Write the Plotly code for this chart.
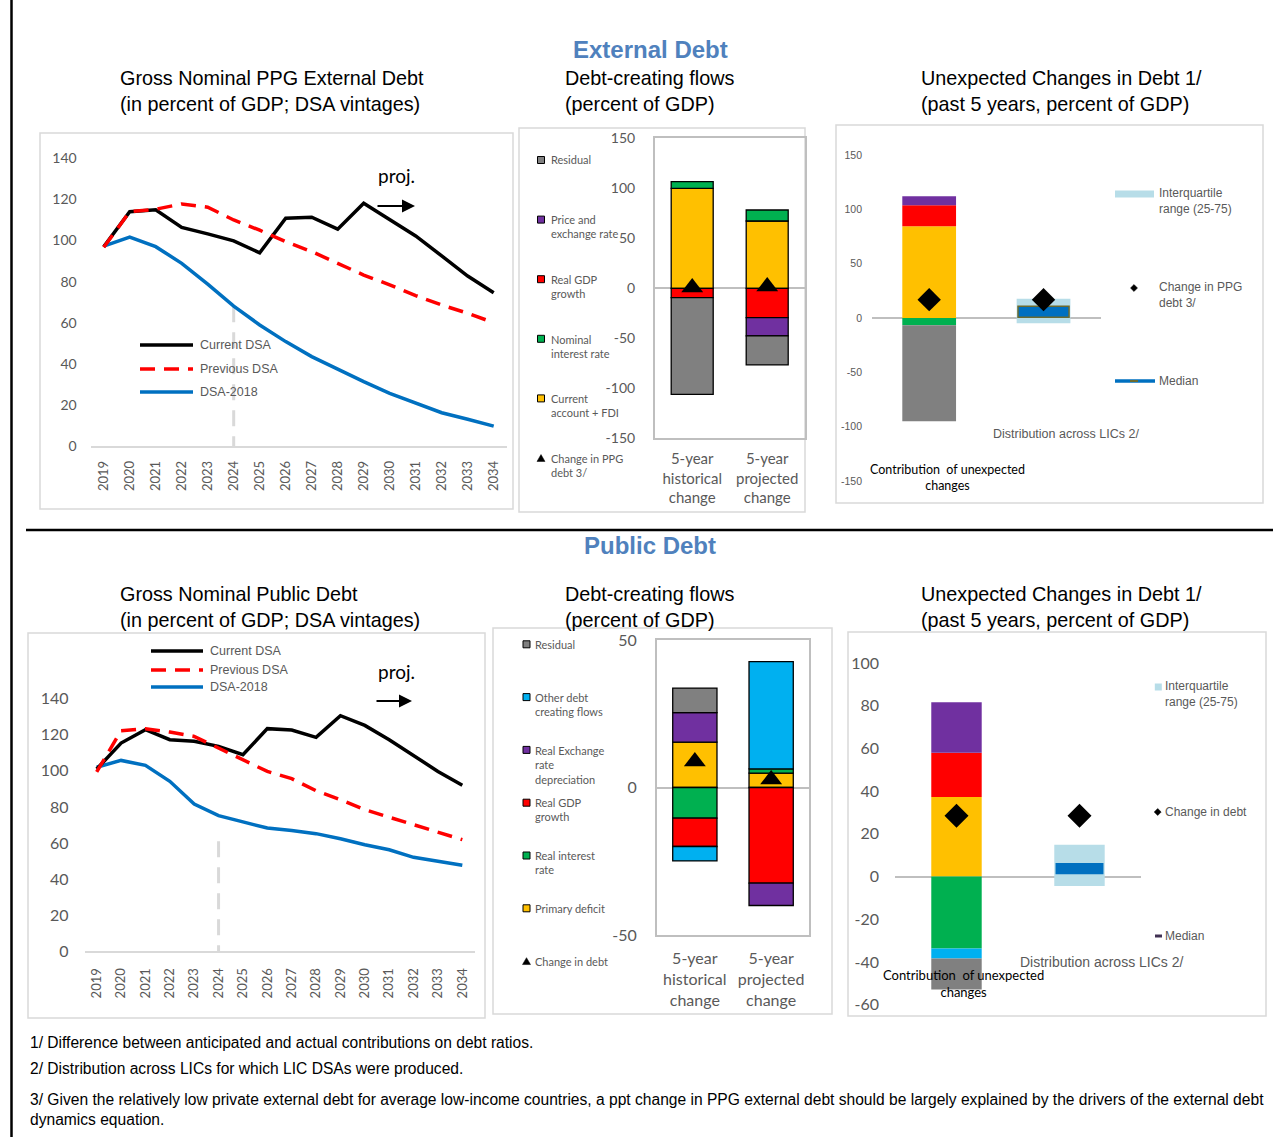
import plotly.graph_objects as go

W, H = 1280, 1137

# ---------------- data ----------------
years = list(range(2019, 2035))
year_labels = [str(y) for y in years]
proj_start = 2024

vintage_names = ["Current DSA", "Previous DSA", "DSA-2018"]
vintage_ticks = [0, 20, 40, 60, 80, 100, 120, 140]

ext_current = [97, 114, 115, 106.4, 103.2, 99.8, 94, 110.8, 111.3, 105.5, 118.1, 110.3, 102.2, 92.5, 82.7, 74.6]
ext_previous = [96.7, 114, 115.2, 117.8, 116.2, 110, 105, 99.4, 94.6, 88.9, 83.2, 78.4, 73.2, 68.6, 64.6, 60]
ext_dsa2018 = [97.3, 101.6, 97, 88.9, 78.8, 68.1, 58.9, 50.8, 43.5, 37.3, 31.3, 25.6, 20.8, 16.2, 13, 9.7]
ext_proj_line_top = 68

pub_current = [101, 115.4, 122.8, 117.3, 116.4, 113.6, 109, 123.4, 122.6, 118.6, 130.6, 125.2, 117.3, 108.4, 99.7, 92]
pub_previous = [99.4, 122.3, 123.4, 121.5, 119.1, 112.7, 106.2, 99.7, 95.7, 89, 84, 78.5, 74.3, 70.2, 66.1, 61.9]
pub_dsa2018 = [102, 105.8, 103.1, 94.2, 81.6, 75.2, 71.7, 68.3, 66.9, 65.2, 62.4, 59.1, 56.3, 52.1, 49.9, 47.7]
pub_proj_line_top = 61

flow_periods = ["5-year<br>historical<br>change", "5-year<br>projected<br>change"]

# external debt-creating flows (stack order: CA+FDI, nominal interest, real GDP, price/FX, residual)
ext_flow_names = ["Current<br>account + FDI", "Nominal<br>interest rate", "Real GDP<br>growth",
                  "Price and<br>exchange rate", "Residual"]
ext_ca_fdi = [100.0, 67.3]
ext_nominal_interest = [6.7, 11.0]
ext_real_gdp = [-9.3, -29.3]
ext_price_fx = [0.0, -18.3]
ext_residual = [-96.7, -29.0]
ext_change = [0.7, 1.7]
ext_change_name = "Change in PPG<br>debt 3/"
ext_flow_ticks = [-150, -100, -50, 0, 50, 100, 150]

# public debt-creating flows (stack order: primary deficit, real interest, real GDP, real FX, other, residual)
pub_flow_names = ["Primary deficit", "Real interest<br>rate", "Real GDP<br>growth",
                  "Real Exchange<br>rate<br>depreciation", "Other debt<br>creating flows", "Residual"]
pub_primary_deficit = [15.4, 4.9]
pub_real_interest = [-10.4, 1.4]
pub_real_gdp = [-9.6, -32.4]
pub_real_fx = [10.0, -7.6]
pub_other_flows = [-4.9, 36.4]
pub_residual = [8.3, 0.0]
pub_change = [8.8, 2.7]
pub_change_name = "Change in debt"
pub_flow_ticks = [-50, 0, 50]

# unexpected changes in debt over the past 5 years
unexp_groups = ["Contribution  of unexpected<br>changes", "Distribution across LICs 2/"]
ext_unexp = [84.4, -6.7, 19.3, 8.3, -88.4]
ext_unexp_change = 16.9
ext_lic_iqr = [-4.9, 17.8]
ext_lic_median = [0.6, 10.7]
ext_unexp_ticks = [-150, -100, -50, 0, 50, 100, 150]

pub_unexp = [37.3, -33.7, 20.7, 23.6, -4.7, -14.5]
pub_unexp_change = 28.5
pub_lic_iqr = [-4.4, 14.9]
pub_lic_median = [1.1, 6.3]
pub_unexp_ticks = [-60, -40, -20, 0, 20, 40, 60, 80, 100]

iqr_name = "Interquartile<br>range (25-75)"
median_name = "Median"

footnotes = [
    "1/ Difference between anticipated and actual contributions on debt ratios.",
    "2/ Distribution across LICs for which LIC DSAs were produced.",
    "3/ Given the relatively low private external debt for average low-income countries, a ppt change in PPG external debt should be largely explained by the drivers of the external debt",
    "dynamics equation.",
]

# ---------------- style ----------------
ARIAL = "Liberation Sans"
SANS = "Lato"
TXT = "#595959"
YELLOW, GREEN, RED, PURPLE, SKY, GREY = "#FFC000", "#00B050", "#FF0000", "#7030A0", "#00B0F0", "#808080"
ext_flow_colors = [YELLOW, GREEN, RED, PURPLE, GREY]
pub_flow_colors = [YELLOW, GREEN, RED, PURPLE, SKY, GREY]
IQR_COLOR = "#B7DDE8"
MEDIAN_COLOR = "#0070C0"
FRAME = "#D9D9D9"
AXIS_GREY = "#BFBFBF"


def X(x):
    return x / W


def Y(y):
    return 1 - y / H


def axref(n):
    return ("x" if n == 1 else f"x{n}", "y" if n == 1 else f"y{n}")


def axkey(n):
    return ("xaxis" if n == 1 else f"xaxis{n}", "yaxis" if n == 1 else f"yaxis{n}")


fig = go.Figure()
shapes = []
annotations = []
axes = {}


def text(x, y, s, size, color=TXT, family=ARIAL, xanchor="left", align="left", bold=False):
    annotations.append(dict(
        x=X(x), y=Y(y), xref="paper", yref="paper", showarrow=False,
        text=f"<b>{s}</b>" if bold else s, xanchor=xanchor, yanchor="middle", align=align,
        font=dict(size=size, color=color, family=family)))


def line_key(x0, x1, y, color, width, dash=None):
    shapes.append(dict(type="line", xref="paper", yref="paper", x0=X(x0), x1=X(x1), y0=Y(y), y1=Y(y),
                       line=dict(color=color, width=width, dash=dash)))


def rect(x0, y0, x1, y1, fill="rgba(0,0,0,0)", outline=FRAME, width=1.5):
    shapes.append(dict(type="rect", xref="paper", yref="paper", x0=X(x0), x1=X(x1), y0=Y(y1), y1=Y(y0),
                       fillcolor=fill, line=dict(color=outline, width=width), layer="below"))


def square_key(cx, cy, s, fill, outline="black"):
    shapes.append(dict(type="rect", xref="paper", yref="paper", x0=X(cx - s / 2), x1=X(cx + s / 2),
                       y0=Y(cy + s / 2), y1=Y(cy - s / 2), fillcolor=fill,
                       line=dict(color=outline, width=1 if outline else 0)))


def poly_key(points):
    d = "M " + " L ".join(f"{X(a):.5f},{Y(b):.5f}" for a, b in points) + " Z"
    shapes.append(dict(type="path", xref="paper", yref="paper", path=d, fillcolor="black",
                       line=dict(color="black", width=0.5)))


def triangle_key(cx, cy, s):
    poly_key([(cx - s / 2, cy + s * 0.43), (cx + s / 2, cy + s * 0.43), (cx, cy - s * 0.43)])


def diamond_key(cx, cy, s):
    poly_key([(cx, cy - s / 2), (cx + s / 2, cy), (cx, cy + s / 2), (cx - s / 2, cy)])


def tick_font(size, family=SANS):
    return dict(family=family, size=size, color=TXT)


# ---------------- DSA vintages line charts ----------------
def vintage_chart(n, cur, prev, old, proj_top, xdom, ydom, ytick_size, xtick_size, ystand, xstand):
    xa, ya = axref(n)
    kx, ky = axkey(n)
    fig.add_trace(go.Scatter(x=[proj_start, proj_start], y=[proj_top, 0], mode="lines",
                             line=dict(color="#D9D9D9", width=3, dash="16px,10px"),
                             xaxis=xa, yaxis=ya, hoverinfo="skip"))
    fig.add_trace(go.Scatter(x=years, y=old, mode="lines", name=vintage_names[2],
                             line=dict(color="#0070C0", width=3.5), xaxis=xa, yaxis=ya))
    fig.add_trace(go.Scatter(x=years, y=cur, mode="lines", name=vintage_names[0],
                             line=dict(color="black", width=3.5), xaxis=xa, yaxis=ya))
    fig.add_trace(go.Scatter(x=years, y=prev, mode="lines", name=vintage_names[1],
                             line=dict(color="#FF0000", width=3.5, dash="15px,9px"), xaxis=xa, yaxis=ya))
    axes[kx] = dict(domain=[X(xdom[0]), X(xdom[1])], range=[years[0] - 0.5, years[-1] + 0.5],
                    tickvals=years, ticktext=year_labels, tickangle=-90, showline=True,
                    linecolor=FRAME, linewidth=1.5, showgrid=False, zeroline=False, ticks="",
                    tickfont=tick_font(xtick_size), ticklabelstandoff=xstand, anchor=ya,
                    automargin=False)
    axes[ky] = dict(domain=[Y(ydom[1]), Y(ydom[0])], range=[0, 140], tickvals=vintage_ticks,
                    ticktext=[str(v) for v in vintage_ticks], showline=False, showgrid=False,
                    zeroline=False, ticks="", tickfont=tick_font(ytick_size),
                    ticklabelstandoff=ystand, anchor=xa, automargin=False)


# ---------------- debt-creating flows ----------------
def flows_chart(n, series, colors, change, ticks, yrange, xdom, ydom, width, ytick_size, xtick_size,
                ystand, xstand, tri_size):
    xa, ya = axref(n)
    kx, ky = axkey(n)
    for vals, col in zip(series, colors):
        fig.add_trace(go.Bar(x=flow_periods, y=[v if v != 0 else None for v in vals], width=width,
                             marker=dict(color=col, line=dict(color="black", width=1.3)),
                             xaxis=xa, yaxis=ya))
    fig.add_trace(go.Scatter(x=flow_periods, y=change, mode="markers",
                             marker=dict(symbol="triangle-up", size=tri_size, color="black"),
                             xaxis=xa, yaxis=ya))
    axes[kx] = dict(domain=[X(xdom[0]), X(xdom[1])], type="category", categoryorder="array",
                    categoryarray=flow_periods, showline=True, mirror=True, linecolor=AXIS_GREY,
                    linewidth=1.5, showgrid=False, zeroline=False, ticks="",
                    tickfont=tick_font(xtick_size), ticklabelstandoff=xstand, anchor=ya,
                    automargin=False)
    axes[ky] = dict(domain=[Y(ydom[1]), Y(ydom[0])], range=yrange, tickvals=ticks,
                    ticktext=[str(v) for v in ticks], showline=True, mirror=True, linecolor=AXIS_GREY,
                    linewidth=1.5, showgrid=False, zeroline=True, zerolinecolor=AXIS_GREY,
                    zerolinewidth=1.5, ticks="", tickfont=tick_font(ytick_size),
                    ticklabelstandoff=ystand, anchor=xa, automargin=False)


# ---------------- unexpected changes ----------------
def unexpected_chart(n, comps, colors, change, iqr, med, ticks, yrange, xdom, ydom, width,
                     ytick_font, ystand, med_outline, dia_size):
    xa, ya = axref(n)
    kx, ky = axkey(n)
    for v, col in zip(comps, colors):
        fig.add_trace(go.Bar(x=[unexp_groups[0]], y=[v], width=width,
                             marker=dict(color=col, line=dict(width=0)), xaxis=xa, yaxis=ya))
    fig.add_trace(go.Bar(x=[unexp_groups[1]], y=[iqr[1] - iqr[0]], base=[iqr[0]], width=width,
                         name=iqr_name, marker=dict(color=IQR_COLOR, line=dict(width=0)),
                         xaxis=xa, yaxis=ya))
    fig.add_trace(go.Bar(x=[unexp_groups[1]], y=[med[1] - med[0]], base=[med[0]], width=width * 0.95,
                         name=median_name, marker=dict(color=MEDIAN_COLOR, line=med_outline),
                         xaxis=xa, yaxis=ya))
    fig.add_trace(go.Scatter(x=unexp_groups, y=[change, change], mode="markers",
                             marker=dict(symbol="diamond", size=dia_size, color="black"),
                             xaxis=xa, yaxis=ya))
    axes[kx] = dict(domain=[X(xdom[0]), X(xdom[1])], type="category", categoryorder="array",
                    categoryarray=unexp_groups, showticklabels=False, showline=False, showgrid=False,
                    zeroline=False, ticks="", anchor=ya, automargin=False)
    axes[ky] = dict(domain=[Y(ydom[1]), Y(ydom[0])], range=yrange, tickvals=ticks,
                    ticktext=[str(v) for v in ticks], showline=False, showgrid=False, zeroline=True,
                    zerolinecolor=AXIS_GREY, zerolinewidth=1.5, ticks="", tickfont=ytick_font,
                    ticklabelstandoff=ystand, anchor=xa, automargin=False)


# ---- External debt row ----
vintage_chart(1, ext_current, ext_previous, ext_dsa2018, ext_proj_line_top,
              (90.7, 506.7), (158.3, 446), 14, 13, 13, 8)
flows_chart(2, [ext_ca_fdi, ext_nominal_interest, ext_real_gdp, ext_price_fx, ext_residual],
            ext_flow_colors, ext_change, ext_flow_ticks, [-150, 150], (654.7, 804.7), (138.3, 438.3),
            0.56, 14, 15, 15, 6, 19)
unexpected_chart(3, ext_unexp, ext_flow_colors, ext_unexp_change, ext_lic_iqr, ext_lic_median,
                 ext_unexp_ticks, [-150, 150], (872, 1100.7), (155, 481), 0.47,
                 tick_font(10.5, ARIAL), 9, dict(color="#6B6B2F", width=1.5), 18)

# ---- Public debt row ----
vintage_chart(4, pub_current, pub_previous, pub_dsa2018, pub_proj_line_top,
              (84.5, 474.5), (698.7, 951.3), 16, 13, 15, 10)
flows_chart(5, [pub_primary_deficit, pub_real_interest, pub_real_gdp, pub_real_fx, pub_other_flows,
                pub_residual],
            pub_flow_colors, pub_change, pub_flow_ticks, [-50, 50], (656.7, 809.3), (640, 935),
            0.58, 16, 16, 15, 8, 19)
unexpected_chart(6, pub_unexp, pub_flow_colors, pub_unexp_change, pub_lic_iqr, pub_lic_median,
                 pub_unexp_ticks, [-60, 100], (895, 1141), (663, 1004.7), 0.41,
                 tick_font(16), 15, dict(width=0), 18.5)

# ---------------- frames, dividers ----------------
rect(40, 133, 513, 509)
rect(519, 128, 805, 512)
rect(836, 125, 1263, 503)
rect(28, 633, 485, 1018)
rect(493, 628, 832, 1014)
rect(848, 632, 1266, 1016)
shapes.append(dict(type="line", xref="paper", yref="paper", x0=X(26), x1=X(1273), y0=Y(530), y1=Y(530),
                   line=dict(color="black", width=2.5)))
shapes.append(dict(type="line", xref="paper", yref="paper", x0=X(11.5), x1=X(11.5), y0=Y(0), y1=Y(H),
                   line=dict(color="black", width=2.5)))

# ---------------- titles ----------------
BLUE_TITLE = "#4F81BD"
text(650, 49, "External Debt", 24, BLUE_TITLE, ARIAL, "center", bold=True)
text(650, 545, "Public Debt", 24, BLUE_TITLE, ARIAL, "center", bold=True)
for top, t1, t2, t3 in [(78, "Gross Nominal PPG External Debt", "Debt-creating flows", "Unexpected Changes in Debt 1/"),
                        (594, "Gross Nominal Public Debt", "Debt-creating flows", "Unexpected Changes in Debt 1/")]:
    text(118, top, t1, 19.8, "black")
    text(563, top, t2, 19.8, "black")
    text(919, top, t3, 19.8, "black")
    text(118, top + 26, "(in percent of GDP; DSA vintages)", 19.8, "black")
    text(563, top + 26, "(percent of GDP)", 19.8, "black")
    text(919, top + 26, "(past 5 years, percent of GDP)", 19.8, "black")

# ---------------- vintage legends + projection arrows ----------------
for (lx0, lx1, tx, ys) in [(140, 193, 198, (345, 369, 392)), (151, 203, 208, (651, 670, 687))]:
    line_key(lx0, lx1, ys[0], "black", 3.5)
    line_key(lx0, lx1, ys[1], "#FF0000", 3.5, "15px,9px")
    line_key(lx0, lx1, ys[2], "#0070C0", 3.5)
    for name, yy in zip(vintage_names, ys):
        text(tx, yy, name, 12.5)

for (tx, ty, ax0, ax1, ay) in [(376, 176, 376, 415, 206), (376, 671, 375, 412, 701)]:
    text(tx, ty, "proj.", 19, "black", SANS)
    annotations.append(dict(x=X(ax1), y=Y(ay), xref="paper", yref="paper", text="", showarrow=True,
                            ax=-(ax1 - ax0), ay=0, arrowhead=2, arrowsize=1.3, arrowwidth=2,
                            arrowcolor="black", standoff=0))

# ---------------- flow legends ----------------
for names, colors, change_name, sx, tx, y0, step in [
        (ext_flow_names, ext_flow_colors, ext_change_name, 541, 548.5, 160, 59.6),
        (pub_flow_names, pub_flow_colors, pub_change_name, 526.5, 532.5, 644.3, 52.8)]:
    entries = list(zip(names, colors))[::-1]
    for i, (name, col) in enumerate(entries):
        yy = y0 + i * step
        square_key(sx, yy, 7, col)
        nlines = name.count("<br>") + 1
        text(tx, yy + (nlines - 1) * 7.3, name, 11, TXT, SANS)
    yy = y0 + len(entries) * step
    triangle_key(sx, yy, 8)
    nlines = change_name.count("<br>") + 1
    text(tx, yy + (nlines - 1) * 7.3, change_name, 11, TXT, SANS)

# ---------------- unexpected-change legends and labels ----------------
line_key(1115, 1154, 194, IQR_COLOR, 7)
text(1157, 201, iqr_name, 12)
diamond_key(1134, 288, 7)
text(1157, 295, ext_change_name, 12)
line_key(1115, 1155, 381, MEDIAN_COLOR, 3.5)
line_key(1130, 1138, 381, "#6B6B2F", 2)
text(1157, 381, median_name, 12)
text(947.5, 477, unexp_groups[0], 12.5, "black", SANS, "center", "center")
text(1066, 434, unexp_groups[1], 12.5, TXT, ARIAL, "center")

square_key(1158.3, 687, 7, IQR_COLOR, None)
text(1163, 694, iqr_name, 12)
diamond_key(1157.7, 812, 7)
text(1163, 812, pub_change_name, 12)
line_key(1155, 1162, 936, "#403152", 3)
text(1163, 936, median_name, 12)
text(963, 983, unexp_groups[0], 13, "black", SANS, "center", "center")
text(1101.5, 962, unexp_groups[1], 14, TXT, ARIAL, "center")

# ---------------- footnotes ----------------
for yy, note in zip([1042, 1068, 1099, 1119], footnotes):
    text(28, yy, note, 15.6, "black")

fig.update_layout(
    width=W, height=H, autosize=False,
    margin=dict(l=0, r=0, t=0, b=0, pad=0, autoexpand=False),
    paper_bgcolor="white", plot_bgcolor="rgba(0,0,0,0)",
    barmode="relative", showlegend=False, hovermode=False,
    font=dict(family=ARIAL, color=TXT),
    shapes=shapes, annotations=annotations, **axes,
)

fig.write_html("out.html")
